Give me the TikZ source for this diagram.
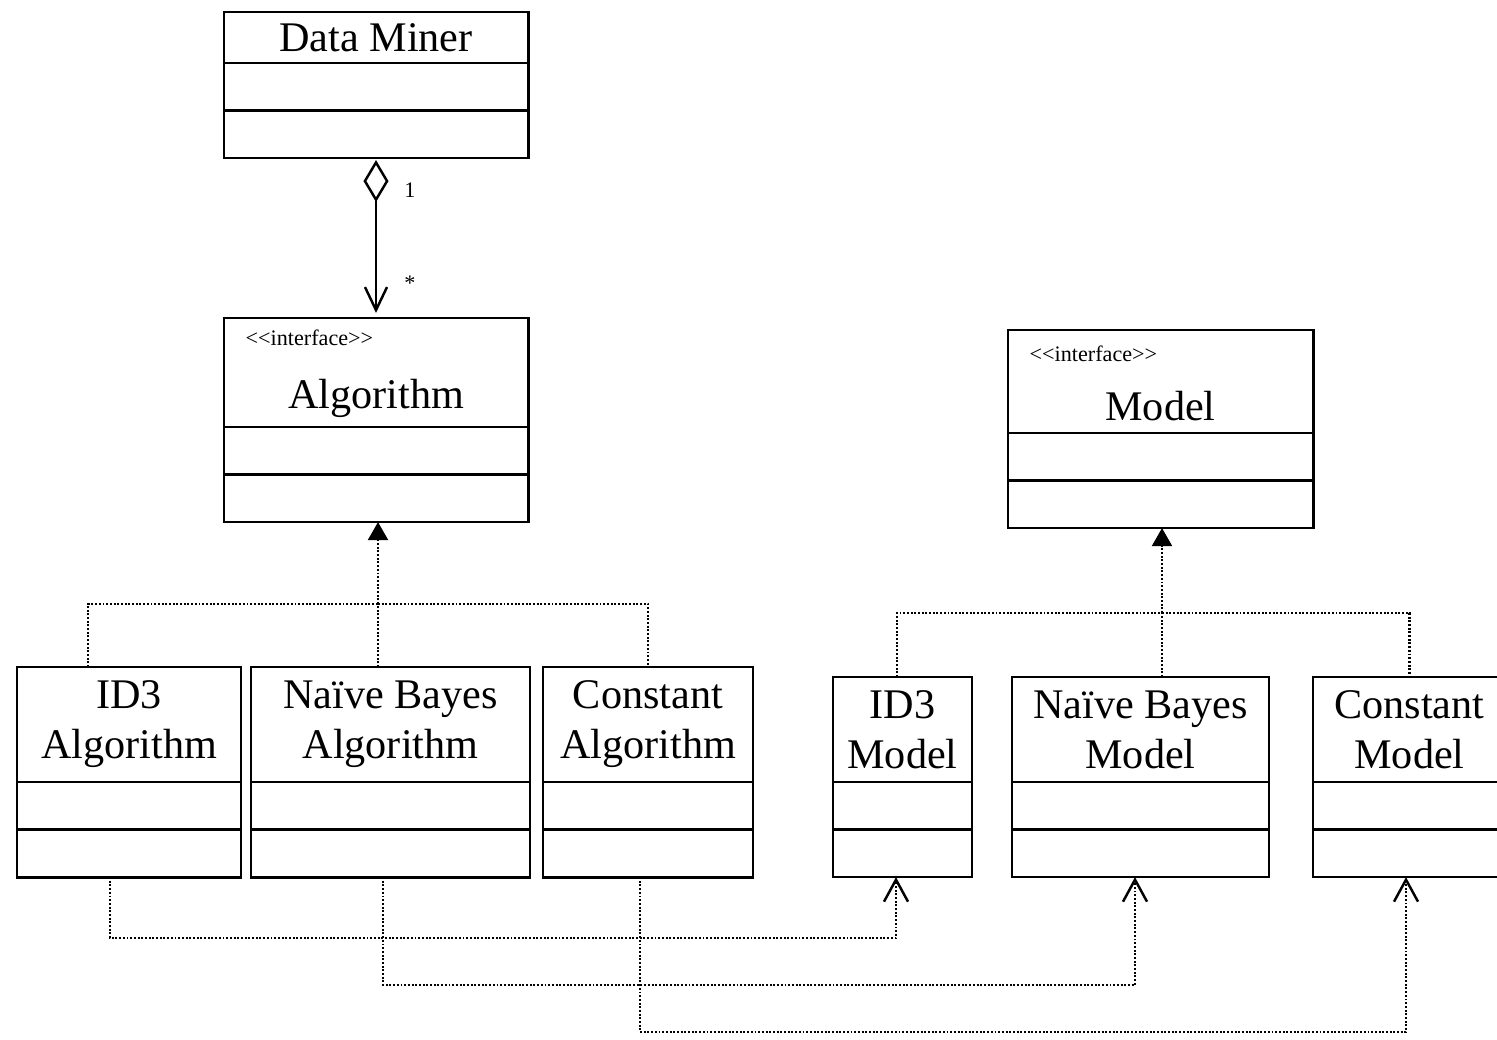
\documentclass[tikz,border=0pt]{standalone}
\usepackage{fontspec}
\setmainfont{Liberation Serif}
\usetikzlibrary{arrows.meta}

\tikzset{
  umlbox/.style={draw,line width=0.8pt,inner sep=0pt,outer sep=0pt,align=center,
    font=\fontsize{12}{14.2}\selectfont},
  umlpart/.style={umlbox,anchor=north,minimum height=0.475cm},
  stereo/.style={inner sep=0pt,anchor=west,font=\fontsize{6.3}{7}\selectfont},
  mult/.style={inner sep=0pt,anchor=west,font=\fontsize{6.3}{7}\selectfont},
  dep/.style={line width=0.6pt,dash pattern=on 0.55pt off 0.5pt},
  realize/.style={dep,-{Triangle[length=0.18cm,width=0.2cm]}},
  uses/.style={dep,-{Straight Barb[length=0.22cm,width=0.24cm,line width=0.7pt]}}
}

\begin{document}
\begin{tikzpicture}[x=0.01cm,y=-0.01cm]
      \useasboundingbox (0,0) rectangle (1497,1040);

      % data miner
      \draw (376,37.5) node [umlbox,minimum width=3.04cm,minimum height=0.51cm] (miner) {Data Miner};
      \draw (miner.south) node [umlpart,minimum width=3.04cm] (miner-attr) {};
      \draw (miner-attr.south) node [umlpart,minimum width=3.04cm] (miner-ops) {};

      % interfaces
      \draw (376,372.5) node [umlbox,minimum width=3.04cm,minimum height=1.09cm] (algo) {};
      \draw (245,338) node [stereo] (algo-st) {<\kern0pt<interface>\kern0pt>};
      \draw (376,398) node [umlbox,draw=none] (algo-name) {Algorithm};
      \draw (algo.south) node [umlpart,minimum width=3.04cm] (algo-attr) {};
      \draw (algo-attr.south) node [umlpart,minimum width=3.04cm] (algo-ops) {};

      \draw (1160.5,381.5) node [umlbox,minimum width=3.05cm,minimum height=1.03cm] (model) {};
      \draw (1029,354) node [stereo] (model-st) {<\kern0pt<interface>\kern0pt>};
      \draw (1160.5,406) node [umlbox,draw=none] (model-name) {Model};
      \draw (model.south) node [umlpart,minimum width=3.05cm] (model-attr) {};
      \draw (model-attr.south) node [umlpart,minimum width=3.05cm] (model-ops) {};

      % algorithm classes
      \draw (129,724.5) node [umlbox,minimum width=2.24cm,minimum height=1.15cm] (id3alg) {ID3\\Algorithm};
      \draw (id3alg.south) node [umlpart,minimum width=2.24cm] (id3alg-attr) {};
      \draw (id3alg-attr.south) node [umlpart,minimum width=2.24cm] (id3alg-ops) {};

      \draw (390.5,724.5) node [umlbox,minimum width=2.79cm,minimum height=1.15cm] (nbalg) {Na\"ive Bayes\\Algorithm};
      \draw (nbalg.south) node [umlpart,minimum width=2.79cm] (nbalg-attr) {};
      \draw (nbalg-attr.south) node [umlpart,minimum width=2.79cm] (nbalg-ops) {};

      \draw (648,724.5) node [umlbox,minimum width=2.10cm,minimum height=1.15cm] (conalg) {Constant\\Algorithm};
      \draw (conalg.south) node [umlpart,minimum width=2.10cm] (conalg-attr) {};
      \draw (conalg-attr.south) node [umlpart,minimum width=2.10cm] (conalg-ops) {};

      % model classes
      \draw (902.5,729.5) node [umlbox,minimum width=1.39cm,minimum height=1.05cm] (id3mod) {ID3\\Model};
      \draw (id3mod.south) node [umlpart,minimum width=1.39cm] (id3mod-attr) {};
      \draw (id3mod-attr.south) node [umlpart,minimum width=1.39cm] (id3mod-ops) {};

      \draw (1140.5,729.5) node [umlbox,minimum width=2.57cm,minimum height=1.05cm] (nbmod) {Na\"ive Bayes\\Model};
      \draw (nbmod.south) node [umlpart,minimum width=2.57cm] (nbmod-attr) {};
      \draw (nbmod-attr.south) node [umlpart,minimum width=2.57cm] (nbmod-ops) {};

      \draw (1409.5,729.5) node [umlbox,minimum width=1.93cm,minimum height=1.05cm] (conmod) {Constant\\Model};
      \draw (conmod.south) node [umlpart,minimum width=1.93cm] (conmod-attr) {};
      \draw (conmod-attr.south) node [umlpart,minimum width=1.93cm] (conmod-ops) {};

      % aggregation
      \draw[line width=0.7pt,shorten <=0.02cm,shorten >=0.05cm,
            {Diamond[open,length=0.42cm,width=0.25cm]}-{Straight Barb[length=0.23cm,width=0.22cm]}]
        (miner-ops.south) -- (algo.north)
        node [mult,pos=0.2,xshift=0.27cm] (one) {1}
        node [mult,pos=0.78,xshift=0.27cm] (many) {*};

      % realizations
      \coordinate (algo-bus) at (378,604);
      \coordinate (model-bus) at (1162,613);
      \draw[realize] (algo-bus) -- (algo-ops.south -| algo-bus);
      \draw[dep] ([xshift=-0.41cm]id3alg.north) |- (algo-bus);
      \draw[dep] (algo-bus |- nbalg.north) -- (algo-bus);
      \draw[dep] (algo-bus) -| (conalg.north);

      \draw[realize] (model-bus) -- (model-ops.south -| model-bus);
      \draw[dep] ([xshift=-0.055cm]id3mod.north) |- (model-bus);
      \draw[dep] (model-bus |- nbmod.north) -- (model-bus);
      \draw[dep] (model-bus) -| (conmod.north);

      % dependencies
      \draw[uses] ([xshift=-0.19cm]id3alg-ops.south) -- ++(0,61) -| ([xshift=-0.065cm]id3mod-ops.south);
      \draw[uses] ([xshift=-0.075cm]nbalg-ops.south) -- ++(0,108) -| ([xshift=-0.055cm]nbmod-ops.south);
      \draw[uses] ([xshift=-0.08cm]conalg-ops.south) -- ++(0,155) -| ([xshift=-0.035cm]conmod-ops.south);
   \end{tikzpicture}
\end{document}
